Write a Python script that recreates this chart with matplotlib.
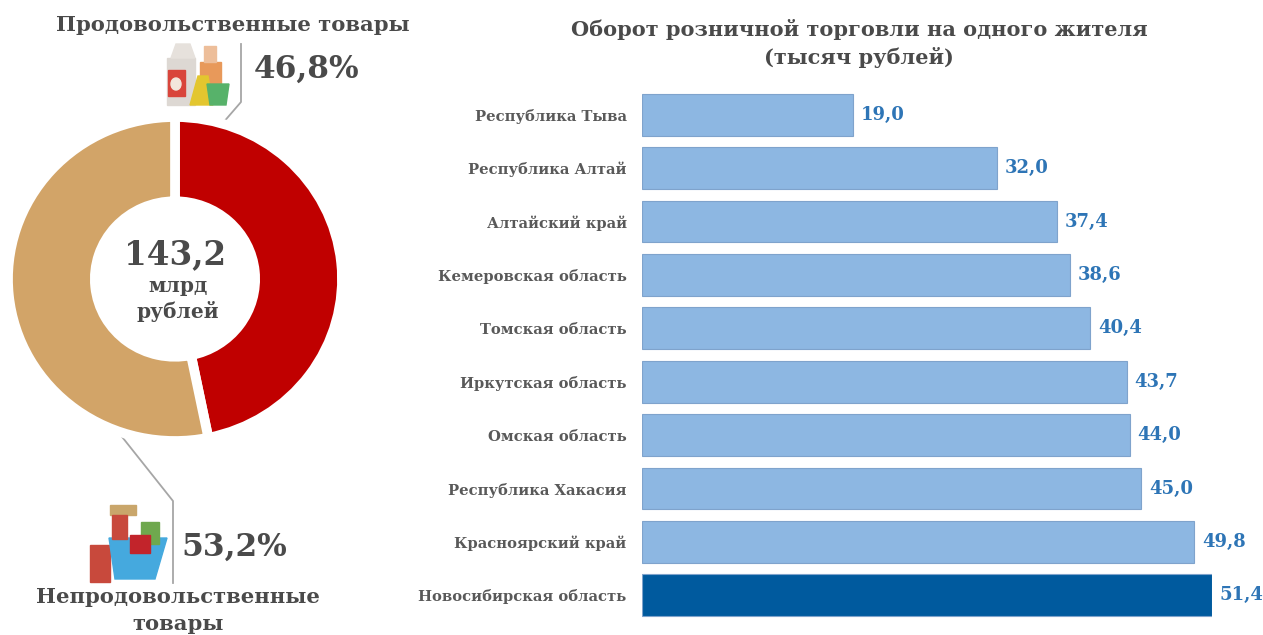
import matplotlib
matplotlib.use("Agg")
import matplotlib.pyplot as plt
from matplotlib.patches import Rectangle, Polygon, Ellipse

plt.rcParams['font.family'] = ['DejaVu Serif', 'Liberation Serif']

regions = ["Республика Тыва", "Республика Алтай", "Алтайский край", "Кемеровская область",
           "Томская область", "Иркутская область", "Омская область", "Республика Хакасия",
           "Красноярский край", "Новосибирская область"]
values = [19.0, 32.0, 37.4, 38.6, 40.4, 43.7, 44.0, 45.0, 49.8, 51.4]
value_labels = ["19,0", "32,0", "37,4", "38,6", "40,4", "43,7", "44,0", "45,0", "49,8", "51,4"]
shares = [46.8, 53.2]
share_colors = ["#C00000", "#D2A468"]

W, H = 1263, 635
fig = plt.figure(figsize=(W/100, H/100), dpi=100, facecolor="white")

bg = fig.add_axes([0, 0, 1, 1])
bg.set_xlim(0, W); bg.set_ylim(H, 0); bg.axis("off")

# donut
x0, x1, y0, y1 = 8, 342, 117, 441
ax1 = fig.add_axes([x0/W, 1-y1/H, (x1-x0)/W, (y1-y0)/H])
ax1.pie(shares, colors=share_colors, startangle=90, counterclock=False, radius=1.0,
        wedgeprops=dict(width=0.52, edgecolor="white", linewidth=7))
ax1.set_aspect("auto")
ax1.set_xlim(-1, 1); ax1.set_ylim(-1, 1)

# leader lines
bg.plot([222, 241, 241], [124, 102, 44], color="#A6A6A6", lw=1.3)
bg.plot([115, 173, 173], [428, 501, 583], color="#A6A6A6", lw=1.3)

tc = "#4A4A4A"
bg.text(233, 25, "Продовольственные товары", ha="center", va="center", fontsize=15.2, fontweight="bold", color=tc)
bg.text(307, 69, "46,8%", ha="center", va="center", fontsize=22.5, fontweight="bold", color=tc)
bg.text(234, 547, "53,2%", ha="center", va="center", fontsize=22.5, fontweight="bold", color=tc)
bg.text(178, 597, "Непродовольственные", ha="center", va="center", fontsize=15.2, fontweight="bold", color=tc)
bg.text(178, 624, "товары", ha="center", va="center", fontsize=15.2, fontweight="bold", color=tc)
bg.text(175, 255, "143,2", ha="center", va="center", fontsize=23.5, fontweight="bold", color=tc)
bg.text(178, 286, "млрд", ha="center", va="center", fontsize=14.5, fontweight="bold", color=tc)
bg.text(178, 311, "рублей", ha="center", va="center", fontsize=14.5, fontweight="bold", color=tc)

# simple icons
bg.add_patch(Rectangle((167, 58), 28, 47, color="#DDD8D3"))
bg.add_patch(Polygon([(171, 58), (176, 44), (190, 44), (195, 58)], color="#E6E1DC"))
bg.add_patch(Rectangle((168, 70), 17, 26, color="#D9453B"))
bg.add_patch(Ellipse((176, 84), 10, 12, color="#F3E6DC"))
bg.add_patch(Rectangle((200, 62), 21, 24, color="#E8995A"))
bg.add_patch(Rectangle((204, 46), 12, 16, color="#EDBE9A"))
bg.add_patch(Polygon([(190, 105), (198, 76), (208, 76), (213, 105)], color="#E3C62F"))
bg.add_patch(Polygon([(207, 84), (229, 84), (226, 105), (210, 105)], color="#57B26A"))
bg.add_patch(Rectangle((90, 545), 20, 37, color="#C8493C"))
bg.add_patch(Polygon([(109, 538), (167, 538), (155, 579), (115, 579)], color="#45A9DE"))
bg.add_patch(Rectangle((110, 505), 26, 10, color="#C9A66B"))
bg.add_patch(Rectangle((112, 515), 15, 24, color="#C8493C"))
bg.add_patch(Rectangle((141, 522), 18, 22, color="#6FA84E"))
bg.add_patch(Rectangle((130, 535), 20, 18, color="#C2242B"))

# title
bg.text(859, 29, "Оборот розничной торговли на одного жителя", ha="center", va="center", fontsize=15.05, fontweight="bold", color=tc)
bg.text(859, 57, "(тысяч рублей)", ha="center", va="center", fontsize=15.05, fontweight="bold", color=tc)

# bars
left, right = 642, 1212
top, bottom = 88, 622
ax2 = fig.add_axes([left/W, 1-bottom/H, (right-left)/W, (bottom-top)/H])
ax2.set_xlim(0, 51.4)
ys = list(range(len(values)))
colors = ["#8DB7E2"]*9 + ["#005A9E"]
ax2.barh(ys, values, height=0.78, color=colors, edgecolor="#7FA3CC", linewidth=0.8)
ax2.set_ylim(len(values)-0.5, -0.5)
ax2.set_yticks(ys)
ax2.set_yticklabels(regions, fontsize=10.6, fontweight="bold", color="#595959")
ax2.tick_params(axis="y", length=0, pad=11)
ax2.xaxis.set_visible(False)
for sp in ax2.spines.values():
    sp.set_visible(False)
for y, v, lab in zip(ys, values, value_labels):
    ax2.text(v + 0.7, y, lab, va="center", ha="left", fontsize=13, fontweight="bold", color="#2E75B6", clip_on=False)

fig.savefig("out.png", dpi=100)
